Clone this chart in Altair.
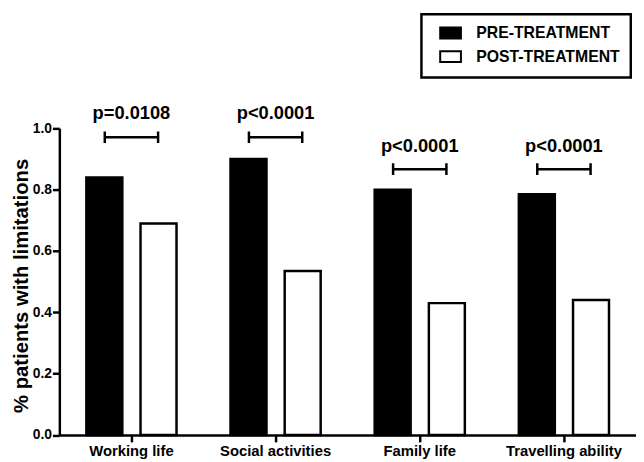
import altair as alt
import pandas as pd

categories = ["Working life", "Social activities", "Family life", "Travelling ability"]
pre_values = [0.84, 0.90, 0.80, 0.785]
post_values = [0.69, 0.535, 0.43, 0.44]
groups = ["PRE-TREATMENT", "POST-TREATMENT"]
p_labels = ["p=0.0108", "p<0.0001", "p<0.0001", "p<0.0001"]
p_label_y = [1.05, 1.05, 0.942, 0.942]
bracket_y = [0.971, 0.971, 0.867, 0.867]
y_ticks = [0.0, 0.2, 0.4, 0.6, 0.8, 1.0]

rows = []
for c, a, b in zip(categories, pre_values, post_values):
    rows.append({"category": c, "treatment": groups[0], "value": a})
    rows.append({"category": c, "treatment": groups[1], "value": b})
bars_df = pd.DataFrame(rows)
ann_df = pd.DataFrame({"category": categories, "label": p_labels,
                       "ly": p_label_y, "by": bracket_y})

FONT = "Liberation Sans"

x_scale = alt.Scale(domain=categories, paddingInner=0.3746, paddingOuter=0.1873)
y_scale = alt.Scale(domain=[0, 1], nice=False, clamp=False)

legend_symbol = "M0,-0.846H3.23V0.846H0Z"

bars = alt.Chart(bars_df).mark_bar(stroke="black", strokeWidth=2.5).encode(
    x=alt.X("category:N", scale=x_scale, sort=categories,
            axis=alt.Axis(title=None, labelAngle=0, labelFont=FONT, labelFontSize=15,
                          labelFontWeight="bold", labelColor="black", tickSize=7,
                          tickWidth=2.5, tickColor="black", domainColor="black",
                          domainWidth=2.5, labelPadding=2)),
    xOffset=alt.XOffset("treatment:N", sort=groups,
                        scale=alt.Scale(domain=groups, paddingInner=0.336, paddingOuter=0)),
    y=alt.Y("value:Q", scale=y_scale,
            axis=alt.Axis(title="% patients with limitations", values=y_ticks, format=".1f",
                          grid=False, labelFont=FONT, labelFontSize=14,
                          labelFontWeight="bold", labelColor="black", tickSize=7,
                          tickWidth=2.5, tickColor="black", domainColor="black",
                          domainWidth=2.5, labelPadding=1, titleFont=FONT,
                          titleFontSize=20.5, titleFontWeight="bold", titleColor="black",
                          titleX=-38, titleY=159, titleBaseline="middle")),
    fill=alt.Fill("treatment:N", sort=groups,
                  scale=alt.Scale(domain=groups, range=["black", "white"]),
                  legend=alt.Legend(title=None, orient="none", legendX=366.7, legendY=-115.6,
                                    direction="vertical", symbolType=legend_symbol,
                                    symbolSize=169, symbolStrokeColor="black",
                                    symbolStrokeWidth=2, symbolOpacity=1,
                                    labelFont=FONT, labelFontSize=16, labelFontWeight="bold",
                                    labelColor="black", labelOffset=28.5, rowPadding=4,
                                    padding=11, strokeColor="black", fillColor="white")),
)

brackets = alt.Chart(ann_df).mark_point(
    shape="M-1,-0.22V0.22M-1,0H1M1,-0.22V0.22", size=2916, filled=False,
    stroke="black", strokeWidth=2.5, opacity=1
).encode(
    x=alt.X("category:N", scale=x_scale, sort=categories),
    y=alt.Y("by:Q", scale=y_scale),
)

texts = alt.Chart(ann_df).mark_text(
    font=FONT, fontSize=18.5, fontWeight="bold", color="black", baseline="middle"
).encode(
    x=alt.X("category:N", scale=x_scale, sort=categories),
    y=alt.Y("ly:Q", scale=y_scale),
    text="label:N",
)

chart = alt.layer(bars, brackets, texts).properties(
    width=584, height=310.5,
    autosize=alt.AutoSizeParams(type="none"),
    padding={"left": 52, "top": 119, "right": 0, "bottom": 26},
).configure_view(strokeWidth=0).configure_legend(strokeWidth=2.5)

chart.save("out.html", embed_options={"renderer": "svg", "actions": False})
